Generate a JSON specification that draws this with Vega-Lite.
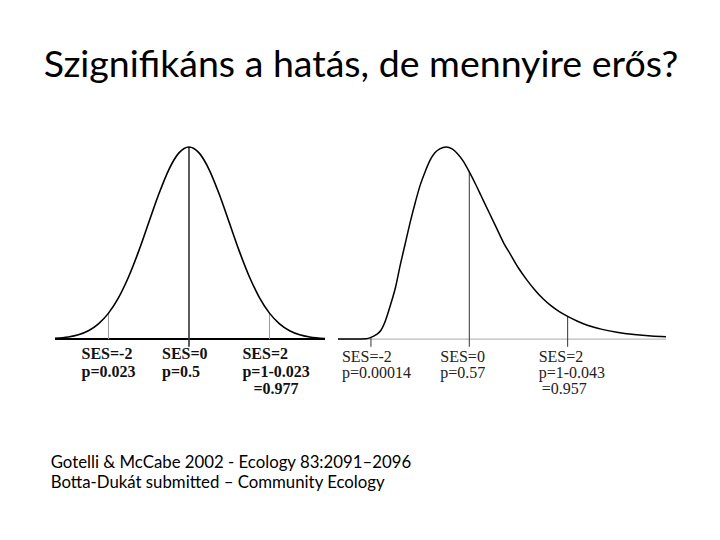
{
  "$schema": "https://vega.github.io/schema/vega-lite/v6.json",
  "background": "white",
  "padding": {"left": 43, "top": 46, "right": 0, "bottom": 0},
  "title": {"text": "Szignifikáns a hatás, de mennyire erős?", "font": "Lato", "fontSize": 37.5, "fontWeight": "normal", "color": "black", "anchor": "start", "offset": 57, "dx": -7},
  "config": {"view": {"stroke": null}},
  "spacing": 0,
  "datasets": {
    "normal": [
      {"ses": -3.33, "density": 0.0039}, {"ses": -3.0, "density": 0.0111}, {"ses": -2.75, "density": 0.0228},
      {"ses": -2.5, "density": 0.0439}, {"ses": -2.25, "density": 0.0796}, {"ses": -2.0, "density": 0.1353},
      {"ses": -1.75, "density": 0.2163}, {"ses": -1.5, "density": 0.3247}, {"ses": -1.25, "density": 0.4578},
      {"ses": -1.0, "density": 0.6065}, {"ses": -0.75, "density": 0.7548}, {"ses": -0.5, "density": 0.8825},
      {"ses": -0.25, "density": 0.9692}, {"ses": 0.0, "density": 1.0}, {"ses": 0.25, "density": 0.9692},
      {"ses": 0.5, "density": 0.8825}, {"ses": 0.75, "density": 0.7548}, {"ses": 1.0, "density": 0.6065},
      {"ses": 1.25, "density": 0.4578}, {"ses": 1.5, "density": 0.3247}, {"ses": 1.75, "density": 0.2163},
      {"ses": 2.0, "density": 0.1353}, {"ses": 2.25, "density": 0.0796}, {"ses": 2.5, "density": 0.0439},
      {"ses": 2.75, "density": 0.0228}, {"ses": 3.0, "density": 0.0111}, {"ses": 3.38, "density": 0.0033}
    ],
    "skewed": [
      {"ses": -2.67, "density": 0}, {"ses": -2.3, "density": 0}, {"ses": -2.1, "density": 0.002},
      {"ses": -2.0, "density": 0.009}, {"ses": -1.9, "density": 0.022}, {"ses": -1.8, "density": 0.045},
      {"ses": -1.7, "density": 0.1}, {"ses": -1.6, "density": 0.18}, {"ses": -1.5, "density": 0.27},
      {"ses": -1.4, "density": 0.39}, {"ses": -1.3, "density": 0.5}, {"ses": -1.2, "density": 0.61},
      {"ses": -1.1, "density": 0.71}, {"ses": -1.0, "density": 0.8}, {"ses": -0.9, "density": 0.87},
      {"ses": -0.8, "density": 0.93}, {"ses": -0.7, "density": 0.97}, {"ses": -0.6, "density": 0.99},
      {"ses": -0.47, "density": 1.0}, {"ses": -0.35, "density": 0.99}, {"ses": -0.24, "density": 0.965},
      {"ses": -0.12, "density": 0.925}, {"ses": 0.0, "density": 0.87}, {"ses": 0.12, "density": 0.81},
      {"ses": 0.24, "density": 0.746}, {"ses": 0.4, "density": 0.66}, {"ses": 0.55, "density": 0.58},
      {"ses": 0.7, "density": 0.5}, {"ses": 0.85, "density": 0.435}, {"ses": 1.0, "density": 0.37},
      {"ses": 1.15, "density": 0.315}, {"ses": 1.32, "density": 0.26}, {"ses": 1.5, "density": 0.21},
      {"ses": 1.66, "density": 0.174}, {"ses": 1.83, "density": 0.143}, {"ses": 2.0, "density": 0.118},
      {"ses": 2.2, "density": 0.093}, {"ses": 2.4, "density": 0.072}, {"ses": 2.68, "density": 0.052},
      {"ses": 3.0, "density": 0.036}, {"ses": 3.35, "density": 0.024}, {"ses": 3.7, "density": 0.016},
      {"ses": 4.0, "density": 0.012}
    ],
    "leftMarks": [
      {"ses": -2, "density": 0.1353, "label": "SES=-2\np=0.023", "extra": ""},
      {"ses": 0, "density": 1.0, "label": "SES=0\np=0.5", "extra": ""},
      {"ses": 2, "density": 0.1353, "label": "SES=2\np=1-0.023", "extra": "=0.977"}
    ],
    "rightMarks": [
      {"ses": -2, "density": 0.009, "label": "SES=-2\np=0.00014", "extra": ""},
      {"ses": 0, "density": 0.87, "label": "SES=0\np=0.57", "extra": ""},
      {"ses": 2, "density": 0.118, "label": "SES=2\np=1-0.043", "extra": "=0.957"}
    ],
    "citation": [
      {"line": "Gotelli & McCabe 2002 - Ecology 83:2091–2096\nBotta-Dukát submitted – Community Ecology"}
    ]
  },
  "vconcat": [
    {
      "spacing": 6,
      "hconcat": [
        {
          "width": 270,
          "height": 260,
          "layer": [
            {
              "data": {"name": "normal"},
              "mark": {"type": "rule", "color": "black", "strokeWidth": 2},
              "encoding": {
                "x": {"aggregate": "min", "field": "ses", "type": "quantitative", "scale": {"domain": [-3.33, 3.38], "nice": false, "zero": false}, "axis": null},
                "x2": {"aggregate": "max", "field": "ses"},
                "y": {"datum": 0, "type": "quantitative", "scale": {"domain": [-0.322, 1.031], "nice": false, "zero": false}, "axis": null}
              }
            },
            {
              "data": {"name": "leftMarks"},
              "transform": [{"filter": "datum.ses != 0"}],
              "mark": {"type": "rule", "color": "#9a9a9a", "strokeWidth": 1},
              "encoding": {
                "x": {"field": "ses", "type": "quantitative", "scale": {"domain": [-3.33, 3.38], "nice": false, "zero": false}, "axis": null},
                "y": {"field": "density", "type": "quantitative", "scale": {"domain": [-0.322, 1.031], "nice": false, "zero": false}, "axis": null},
                "y2": {"datum": 0}
              }
            },
            {
              "data": {"name": "leftMarks"},
              "transform": [{"filter": "datum.ses == 0"}],
              "mark": {"type": "rule", "color": "#333333", "strokeWidth": 1.6},
              "encoding": {
                "x": {"field": "ses", "type": "quantitative", "scale": {"domain": [-3.33, 3.38], "nice": false, "zero": false}, "axis": null},
                "y": {"field": "density", "type": "quantitative", "scale": {"domain": [-0.322, 1.031], "nice": false, "zero": false}, "axis": null},
                "y2": {"datum": -0.04}
              }
            },
            {
              "data": {"name": "normal"},
              "mark": {"type": "line", "color": "black", "strokeWidth": 1.6, "interpolate": "monotone"},
              "encoding": {
                "x": {"field": "ses", "type": "quantitative", "scale": {"domain": [-3.33, 3.38], "nice": false, "zero": false}, "axis": null},
                "y": {"field": "density", "type": "quantitative", "scale": {"domain": [-0.322, 1.031], "nice": false, "zero": false}, "axis": null}
              }
            },
            {
              "data": {"name": "leftMarks"},
              "mark": {"type": "text", "font": "Liberation Serif", "fontWeight": "bold", "fontSize": 16, "align": "left", "baseline": "alphabetic", "dx": -27, "lineBreak": "\n", "lineHeight": 18, "color": "#111111"},
              "encoding": {
                "x": {"field": "ses", "type": "quantitative", "scale": {"domain": [-3.33, 3.38], "nice": false, "zero": false}, "axis": null},
                "y": {"datum": -0.104, "type": "quantitative", "scale": {"domain": [-0.322, 1.031], "nice": false, "zero": false}, "axis": null},
                "text": {"field": "label"}
              }
            },
            {
              "data": {"name": "leftMarks"},
              "mark": {"type": "text", "font": "Liberation Serif", "fontWeight": "bold", "fontSize": 16, "align": "left", "baseline": "alphabetic", "dx": -16, "dy": 35, "color": "#111111"},
              "encoding": {
                "x": {"field": "ses", "type": "quantitative", "scale": {"domain": [-3.33, 3.38], "nice": false, "zero": false}, "axis": null},
                "y": {"datum": -0.104, "type": "quantitative", "scale": {"domain": [-0.322, 1.031], "nice": false, "zero": false}, "axis": null},
                "text": {"field": "extra"}
              }
            }
          ]
        },
        {
          "width": 328,
          "height": 260,
          "layer": [
            {
              "data": {"name": "skewed"},
              "mark": {"type": "rule", "color": "#aaaaaa", "strokeWidth": 1},
              "encoding": {
                "x": {"aggregate": "min", "field": "ses", "type": "quantitative", "scale": {"domain": [-2.67, 4.0], "nice": false, "zero": false}, "axis": null},
                "x2": {"aggregate": "max", "field": "ses"},
                "y": {"datum": 0, "type": "quantitative", "scale": {"domain": [-0.322, 1.031], "nice": false, "zero": false}, "axis": null}
              }
            },
            {
              "data": {"name": "rightMarks"},
              "mark": {"type": "rule", "color": "#333333", "strokeWidth": 1},
              "encoding": {
                "x": {"field": "ses", "type": "quantitative", "scale": {"domain": [-2.67, 4.0], "nice": false, "zero": false}, "axis": null},
                "y": {"field": "density", "type": "quantitative", "scale": {"domain": [-0.322, 1.031], "nice": false, "zero": false}, "axis": null},
                "y2": {"datum": -0.04}
              }
            },
            {
              "data": {"name": "skewed"},
              "mark": {"type": "line", "color": "black", "strokeWidth": 1.5, "interpolate": "monotone"},
              "encoding": {
                "x": {"field": "ses", "type": "quantitative", "scale": {"domain": [-2.67, 4.0], "nice": false, "zero": false}, "axis": null},
                "y": {"field": "density", "type": "quantitative", "scale": {"domain": [-0.322, 1.031], "nice": false, "zero": false}, "axis": null}
              }
            },
            {
              "data": {"name": "rightMarks"},
              "mark": {"type": "text", "font": "Liberation Serif", "fontSize": 16, "align": "left", "baseline": "alphabetic", "dx": -29, "lineBreak": "\n", "lineHeight": 16, "color": "#222222"},
              "encoding": {
                "x": {"field": "ses", "type": "quantitative", "scale": {"domain": [-2.67, 4.0], "nice": false, "zero": false}, "axis": null},
                "y": {"datum": -0.117, "type": "quantitative", "scale": {"domain": [-0.322, 1.031], "nice": false, "zero": false}, "axis": null},
                "text": {"field": "label"}
              }
            },
            {
              "data": {"name": "rightMarks"},
              "mark": {"type": "text", "font": "Liberation Serif", "fontSize": 16, "align": "left", "baseline": "alphabetic", "dx": -26, "dy": 32, "color": "#222222"},
              "encoding": {
                "x": {"field": "ses", "type": "quantitative", "scale": {"domain": [-2.67, 4.0], "nice": false, "zero": false}, "axis": null},
                "y": {"datum": -0.117, "type": "quantitative", "scale": {"domain": [-0.322, 1.031], "nice": false, "zero": false}, "axis": null},
                "text": {"field": "extra"}
              }
            }
          ]
        }
      ]
    },
    {
      "width": 360,
      "height": 100,
      "data": {"name": "citation"},
      "mark": {"type": "text", "font": "Lato", "fontSize": 16.8, "align": "left", "baseline": "alphabetic", "lineBreak": "\n", "lineHeight": 20.6, "color": "black"},
      "encoding": {
        "x": {"datum": -0.012, "type": "quantitative", "scale": {"domain": [0, 1], "nice": false, "zero": false}, "axis": null},
        "y": {"datum": 0.333, "type": "quantitative", "scale": {"domain": [0, 1], "nice": false, "zero": false}, "axis": null},
        "text": {"field": "line"}
      }
    }
  ]
}
